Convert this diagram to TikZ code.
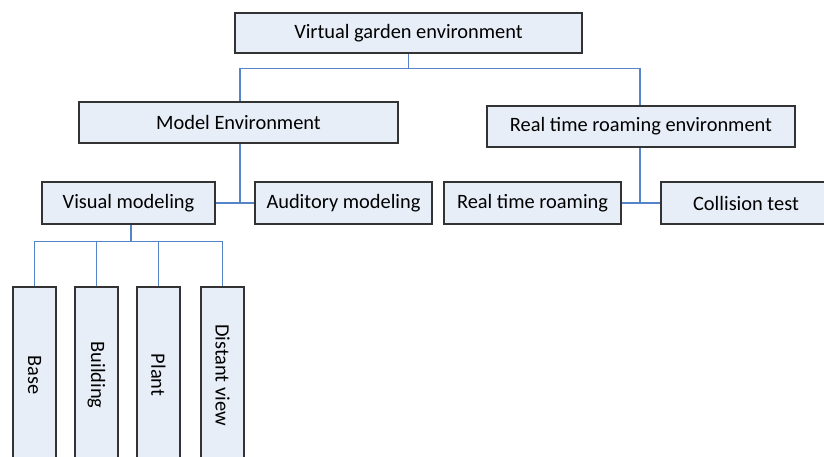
\documentclass[tikz,border=0pt]{standalone}
\usepackage{fontspec}
\setmainfont{Carlito}
\begin{document}
\begin{tikzpicture}[x=1pt,y=-1pt,
  box/.style={draw=black!80, line width=1.2pt, fill=boxfill, inner sep=0pt, font=\fontsize{20.4}{24}\selectfont},
  link/.style={draw=linkblue, line width=1.3pt}]
\definecolor{boxfill}{HTML}{E8EEF8}
\definecolor{linkblue}{HTML}{5585C8}
\useasboundingbox (0,0) rectangle (824,457);
\clip (0,0) rectangle (824,457);
\node[box, minimum width=347pt, minimum height=40pt] (top) at (408.5,33) {Virtual garden environment};
\node[box, minimum width=319pt, minimum height=41pt] (model) at (238.5,122.5) {Model Environment};
\node[box, minimum width=308pt, minimum height=41pt] (rtre) at (641,126.5) {Real time roaming environment};
\node[box, minimum width=173pt, minimum height=42pt] (visual) at (128.5,203) {Visual modeling};
\node[box, minimum width=177pt, minimum height=42pt] (aud) at (343.5,203) {Auditory modeling};
\node[box, minimum width=177pt, minimum height=42pt] (rtr) at (532.5,203) {Real time roaming};
\node[box, minimum width=170pt, minimum height=42pt] (coll) at (746,203) {Collision test};
\node[box, minimum width=176pt, minimum height=43pt, rotate=-90] (base) at (34.5,375) {Base};
\node[box, minimum width=176pt, minimum height=43pt, rotate=-90] (build) at (96.5,375) {Building};
\node[box, minimum width=176pt, minimum height=43pt, rotate=-90] (plant) at (158.5,375) {Plant};
\node[box, minimum width=176pt, minimum height=43pt, rotate=-90] (dist) at (222.5,375) {Distant view};
% connectors
\coordinate (j1) at ([yshift=-15pt]top.south);
\draw[link] (top.south) -- (j1);
\draw[link] ([xshift=1.5pt]model.north) |- (j1) -| ([xshift=-1pt]rtre.north);
\draw[link] (visual.east) -- (aud.west);
\draw[link] ([xshift=1.5pt]model.south) -- ([xshift=1.5pt]model.south |- visual.east);
\draw[link] (rtr.east) -- (coll.west);
\draw[link] ([xshift=-1pt]rtre.south) -- ([xshift=-1pt]rtre.south |- coll.west);
\coordinate (j2) at ([xshift=2.5pt,yshift=-17pt]visual.south);
\draw[link] ([xshift=2.5pt]visual.south) -- (j2);
\draw[link] (base.west) |- (j2) -| (dist.west);
\draw[link] (build.west) -- (build.west |- j2);
\draw[link] (plant.west) -- (plant.west |- j2);
\end{tikzpicture}
\end{document}
